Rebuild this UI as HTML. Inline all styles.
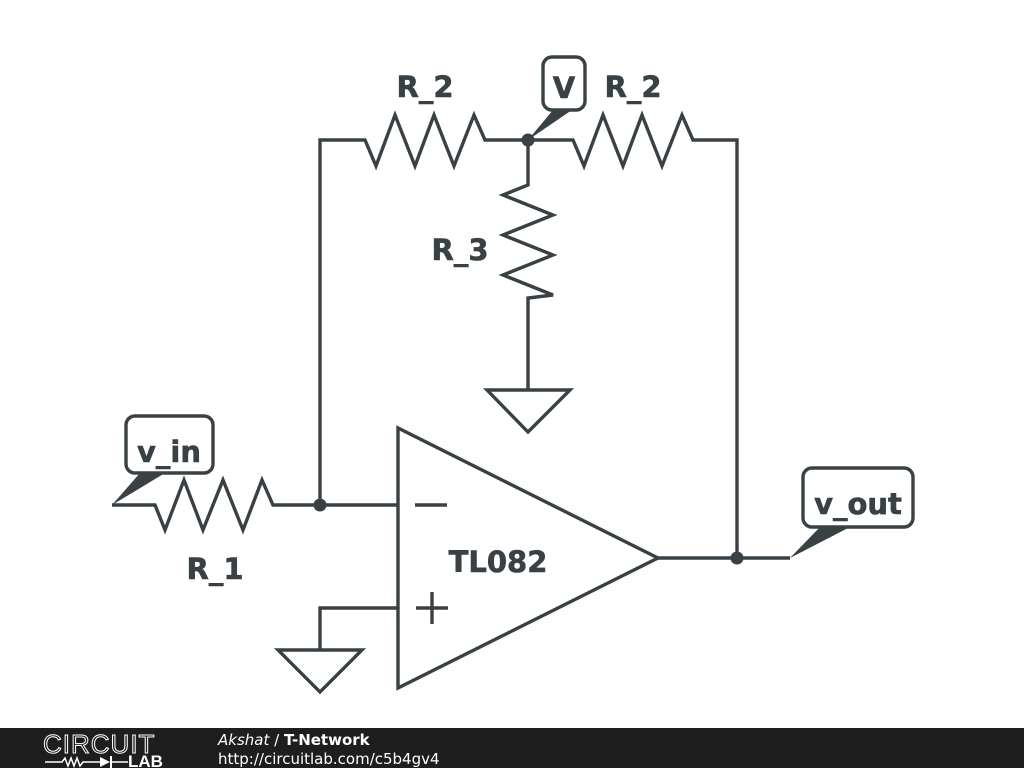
<!DOCTYPE html>
<html><head><meta charset="utf-8"><style>
html,body{margin:0;padding:0;background:#fff;}
body{width:1024px;height:768px;overflow:hidden;position:relative;font-family:"DejaVu Sans",sans-serif;}
</style></head><body>
<svg width="1024" height="768" viewBox="0 0 1024 768" xmlns="http://www.w3.org/2000/svg" style="position:absolute;left:0;top:0">
<g fill="none" stroke="#394145" stroke-width="3.4" stroke-linejoin="miter">
<polyline points="320,505 320,140 365,140 376,166 395,115 415,166 434,115 454,166 474,115 485,140 573,140 584,166 603,115 623,166 642,115 662,166 682,115 693,140 737,140 737,558"/>
<polyline points="528,140 528,185 503,195 553,215 503,235 553,255 503,275 553,295 528,298 528,390"/>
<polygon points="487,390 570,390 528,432"/>
<polyline points="112,505 155,505 165,530 184,480 203,530 223,480 243,530 262,480 273,505 398,505"/>
<polygon points="398,428 398,688 658,558"/>
<line x1="415" y1="505" x2="447" y2="505"/>
<line x1="416" y1="608" x2="448" y2="608"/>
<line x1="432" y1="592" x2="432" y2="624"/>
<polyline points="398,608 320,608 320,650"/>
<polygon points="278,650 362,650 320,692"/>
<line x1="658" y1="558" x2="790" y2="558"/>
<rect x="126" y="416" width="87" height="57" rx="9"/>
<rect x="543" y="57" width="42" height="53" rx="9"/>
<rect x="803" y="468" width="110" height="59" rx="9"/>
</g>
<g fill="#394145">
<circle cx="320" cy="505" r="6.5"/>
<circle cx="528" cy="140" r="6.5"/>
<circle cx="737" cy="558" r="6.5"/>
<polygon points="112,505 140,473 165,473"/>
<polygon points="528,140 553,110 572,110"/>
<polygon points="790,558 820,527 850,527"/>
</g>
<g font-family="DejaVu Sans, sans-serif" font-weight="bold" font-size="29" fill="#394145" text-anchor="middle" stroke="#394145" stroke-width="0.6">
<text x="425" y="97">R_2</text>
<text x="633" y="97">R_2</text>
<text x="460" y="260">R_3</text>
<text x="215" y="579">R_1</text>
<text x="498" y="572">TL082</text>
<text x="169" y="462">v_in</text>
<text x="564" y="98">V</text>
<text x="858" y="514">v_out</text>
</g>
<rect x="0" y="728" width="1024" height="40" fill="#1e1e1e"/>
<g fill="#fff" font-family="DejaVu Sans, sans-serif">
<text x="43" y="753" font-size="26" letter-spacing="1" fill="none" stroke="#fff" stroke-width="1" font-family="Liberation Sans, sans-serif">CIRCUIT</text>
<text x="128" y="767" font-size="17" font-weight="bold" font-family="Liberation Sans, sans-serif">LAB</text>
<polyline points="45,762 62,762 65,758 68,766 71,758 74,766 77,758 80,766 83,762 100,762" fill="none" stroke="#fff" stroke-width="1.5"/>
<polygon points="100,757 100,767 110,762" fill="#fff"/>
<line x1="111" y1="756" x2="111" y2="768" stroke="#fff" stroke-width="2"/>
<line x1="111" y1="762" x2="128" y2="762" stroke="#fff" stroke-width="1.5"/>
<text x="218" y="745" font-size="15"><tspan font-style="italic">Akshat</tspan> / <tspan font-weight="bold">T-Network</tspan></text>
<text x="218" y="764" font-size="15">http://circuitlab.com/c5b4gv4</text>
</g>
</svg>
</body></html>
